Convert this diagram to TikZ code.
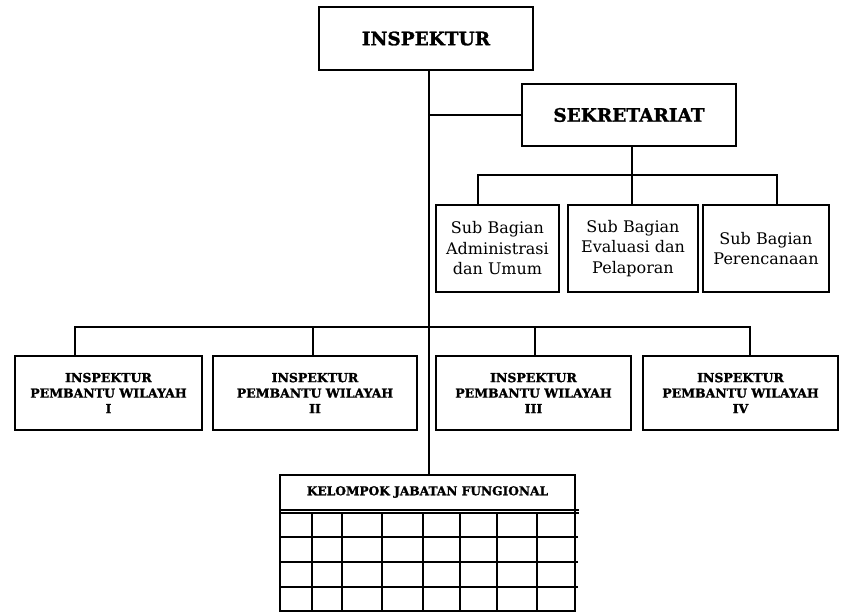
\documentclass[tikz,border=0pt]{standalone}
\usepackage{fontspec}
\setmainfont{DejaVu Serif}
\newfontfamily\heavyfont[BoldFeatures={FakeBold=1.4}]{DejaVu Serif}
\begin{document}
\begin{tikzpicture}[x=1pt,y=-1pt,
  box/.style={draw=black,line width=1.6pt,rectangle,inner sep=0pt,align=center},
  big/.style={font=\fontsize{18.5}{22}\heavyfont\bfseries},
  ipfont/.style={font=\fontsize{12.5}{15.5}\heavyfont\bfseries},
  subfont/.style={font=\fontsize{16}{20.5}\selectfont},
  conn/.style={line width=1.4pt},
  grid/.style={line width=1.3pt}]
\useasboundingbox (0,0) rectangle (852,613);
% top
\node[box,big,minimum width=214,minimum height=63] (insp) at (426,38.5) {INSPEKTUR};
\node[box,big,minimum width=214,minimum height=62] (sek) at (629,115) {SEKRETARIAT};
% sub bagian
\node[box,subfont,minimum width=123,minimum height=87] (sub1) at (497.5,248.5) {Sub Bagian\\Administrasi\\dan Umum};
\node[box,subfont,minimum width=130,minimum height=87] (sub2) at (633,248.5) {Sub Bagian\\Evaluasi dan\\Pelaporan};
\node[box,subfont,minimum width=126,minimum height=87] (sub3) at (766,248.5) {Sub Bagian\\Perencanaan};
% inspektur pembantu
\node[box,ipfont,minimum width=187,minimum height=74] (ip1) at (108.5,393) {INSPEKTUR\\PEMBANTU WILAYAH\\I};
\node[box,ipfont,minimum width=204,minimum height=74] (ip2) at (315,393) {INSPEKTUR\\PEMBANTU WILAYAH\\II};
\node[box,ipfont,minimum width=195,minimum height=74] (ip3) at (533.5,393) {INSPEKTUR\\PEMBANTU WILAYAH\\III};
\node[box,ipfont,minimum width=195,minimum height=74] (ip4) at (740.5,393) {INSPEKTUR\\PEMBANTU WILAYAH\\IV};
% kelompok jabatan fungsional
\node[box,minimum width=295,minimum height=136] (kjf) at (427.5,543) {};
\node[font=\fontsize{12.2}{14}\heavyfont\bfseries,inner sep=0pt] (kjft) at (427.5,492) {KELOMPOK JABATAN FUNGIONAL};
% coordinates
\coordinate (spine) at (429,0);
\coordinate (sekdrop) at (632,0);
\coordinate (subbus) at (0,175);
\coordinate (ipbus) at (0,327);
\coordinate (d1) at (478,0);
\coordinate (d3) at (777,0);
\coordinate (e1) at (75,0);
\coordinate (e2) at (313,0);
\coordinate (e3) at (535,0);
\coordinate (e4) at (750,0);
% connectors
\draw[conn] (insp.south -| spine) -- (kjf.north -| spine);
\draw[conn] (spine |- sek.west) -- (sek.west);
\draw[conn] (sek.south -| sekdrop) -- (sekdrop |- subbus);
\draw[conn] (d1 |- sub1.north) -- (d1 |- subbus) -- (d3 |- subbus) -- (d3 |- sub3.north);
\draw[conn] (sekdrop |- subbus) -- (sekdrop |- sub2.north);
\draw[conn] (e1 |- ip1.north) -- (e1 |- ipbus) -- (e4 |- ipbus) -- (e4 |- ip4.north);
\draw[conn] (e2 |- ipbus) -- (e2 |- ip2.north);
\draw[conn] (e3 |- ipbus) -- (e3 |- ip3.north);
% table grid
\coordinate (r0) at (0,510);
\coordinate (r1) at (0,513);
\draw[grid] (kjf.west |- r0) -- ([xshift=3pt]kjf.east |- r0);
\draw[grid] (kjf.west |- r1) -- ([xshift=3pt]kjf.east |- r1);
\foreach \yy in {537,562,587}{
  \coordinate (ry) at (0,\yy);
  \draw[grid] (kjf.west |- ry) -- ([xshift=2pt]kjf.east |- ry);}
\foreach \xx in {312,342,382,423,460,497,537}{
  \coordinate (cx) at (\xx,0);
  \draw[grid] (cx |- r1) -- (cx |- kjf.south);}
\end{tikzpicture}
\end{document}
